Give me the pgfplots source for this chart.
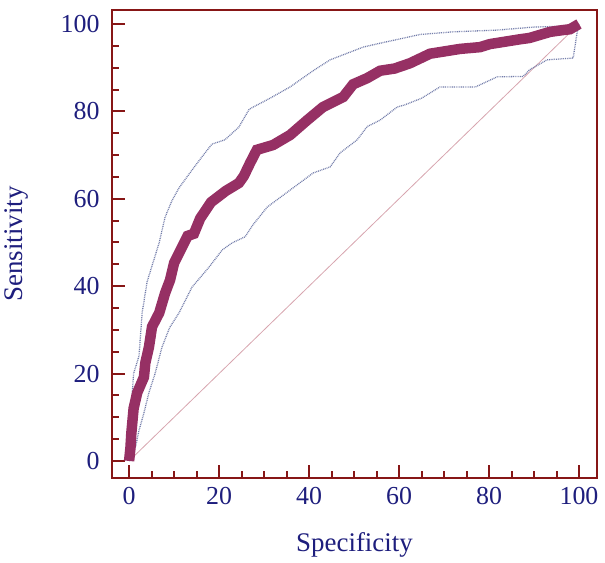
\documentclass[border=0pt]{standalone}
\usepackage{pgfplots}
\pgfplotsset{compat=1.18}
\usepackage{fontspec}
\setmainfont{Liberation Serif}
\definecolor{axred}{RGB}{135,22,22}
\definecolor{navy}{RGB}{30,30,125}
\definecolor{roc}{RGB}{150,48,100}
\definecolor{ci}{RGB}{115,125,170}
\definecolor{diag}{RGB}{215,165,175}
\begin{document}
\begin{tikzpicture}
\begin{axis}[
  scale only axis,
  width=485bp, height=468bp,
  xmin=-3.8, xmax=104, ymin=-3.9, ymax=103.2,
  xtick={0,20,40,60,80,100}, ytick={0,20,40,60,80,100},
  minor tick num=3,
  tick align=inside, tick pos=left,
  major tick length=13bp, minor tick length=7bp,
  axis line style={draw=axred, line width=2.4bp},
  every tick/.style={draw=axred, line width=2bp},
  /pgf/number format/assume math mode=true,
  ticklabel style={font=\fontsize{26}{26}\selectfont, text=navy},
  xticklabel style={yshift=-6bp},
  yticklabel style={xshift=-9bp},
  xlabel={Specificity}, ylabel={Sensitivity},
  label style={font=\fontsize{27}{27}\selectfont, text=navy},
  xlabel style={at={(axis description cs:0.5,-0.142)}, anchor=center},
  ylabel style={at={(axis description cs:-0.196,0.5)}, anchor=center},
  clip=false,
]
\addplot[diag, line width=0.8bp] coordinates {(0,0) (100,100)};
\addplot[ci, dash pattern=on 0.9bp off 0.9bp, line width=1.3bp] coordinates {
(0,5) (0.4,12) (0.7,15.6) (1,20) (2.2,24) (2.9,33.9) (4,41) (5.5,46) (6.7,50) (8,55.8)
(9.5,59.5) (11.1,62.5) (14,66.6) (16.2,69.6) (18.4,72.5) (21.3,73.5) (24.4,76.4) (26.7,80.5)
(31.3,83) (35.8,85.6) (40.9,89.3) (44.7,91.8) (46.2,92.4) (52,94.7) (55.8,95.6) (64.7,97.6)
(72,98.2) (81.8,98.6) (90,99.3) (97,99.5) (100,100)};
\addplot[ci, dash pattern=on 0.9bp off 0.9bp, line width=1.3bp] coordinates {
(0,0) (1.5,3.5) (2.2,7) (3.3,11) (4.4,15.6) (5.8,20.1) (7.3,26) (9,30.5) (11.1,33.9) (14,39.8)
(17.8,44.4) (20.7,48.3) (22.9,49.9) (25.8,51.3) (27.5,54) (30.7,58.1) (35.8,62) (40.9,65.9)
(44.7,67.3) (46.9,70.5) (50.7,73.5) (52.9,76.5) (55.8,78) (59.6,81) (61.3,81.5) (65,83)
(69.1,85.6) (77,85.6) (81.8,87.9) (87.6,88) (89,89.5) (92.9,91.8) (98.7,92.2) (99.5,97.5) (100,100)};
\addplot[roc, line width=10.5bp, line join=miter] coordinates {
(0,0) (0.3,3) (0.5,6.4) (1,12) (1.8,15.6) (3.3,19.2) (3.6,22.4) (4.4,26) (5.1,30.7) (6.7,33.9)
(8,38.4) (9.1,41.4) (10,45.3) (11.8,49) (13,51.5) (14.4,52) (15.8,55.5) (18.2,59.2) (21.5,61.8)
(24.4,63.6) (25.5,65.2) (26.9,68.2) (28.4,71.2) (32,72.3) (35.8,74.6) (39.6,78) (43.1,81)
(47.6,83.3) (49.8,86.2) (52.9,87.6) (55.8,89.3) (59,89.8) (62.4,91) (66.9,93.2) (73.6,94.3)
(78,94.7) (80.2,95.4) (86.9,96.5) (89,96.8) (93.6,98.2) (96.4,98.6) (98,98.8) (100,100)};
\end{axis}
\path ([xshift=-112bp,yshift=-85bp]current axis.south west) rectangle ([xshift=8bp,yshift=10bp]current axis.north east);
\end{tikzpicture}
\end{document}
